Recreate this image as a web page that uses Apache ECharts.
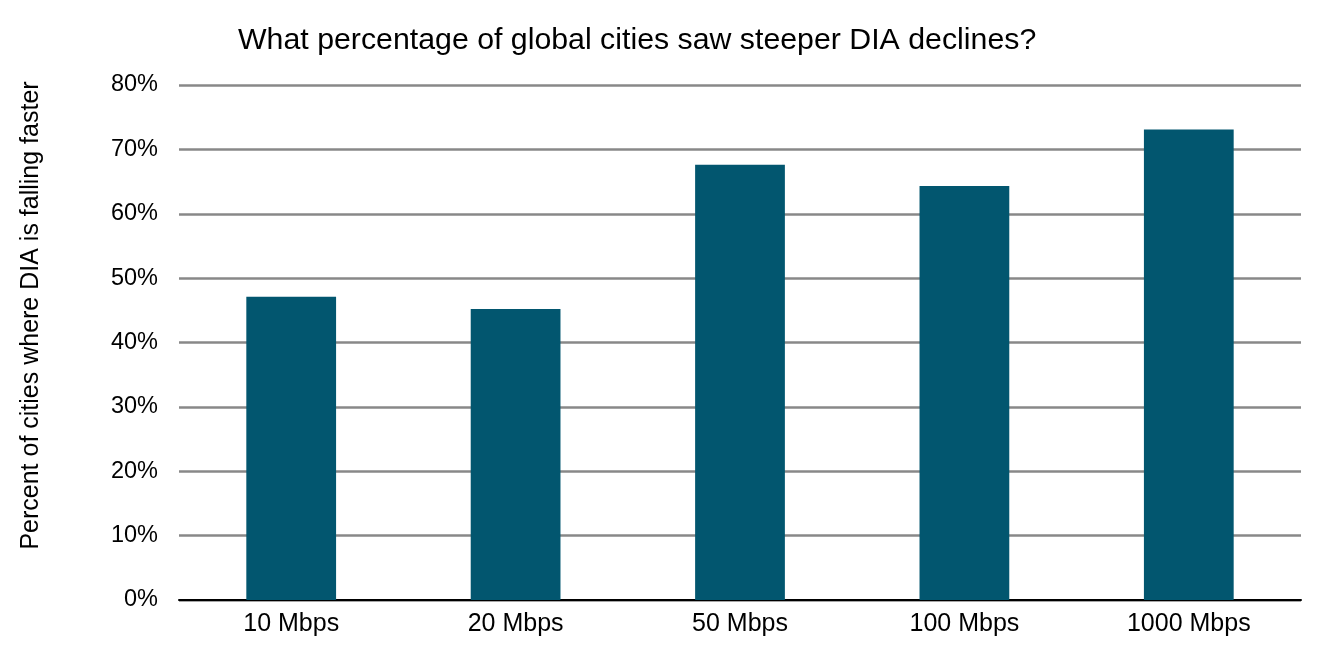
<!DOCTYPE html>
<html>
<head>
<meta charset="utf-8">
<script src="https://cdn.jsdelivr.net/npm/echarts@6/dist/echarts.min.js"></script>
<style>html,body{margin:0;padding:0;background:#fff}#c{width:1343px;height:670px}</style>
</head>
<body>
<div id="c"></div>
<script>
const categories = ['10 Mbps', '20 Mbps', '50 Mbps', '100 Mbps', '1000 Mbps'];
const values = [47.1, 45.2, 67.6, 64.3, 73.1];
const yTicks = [0, 10, 20, 30, 40, 50, 60, 70, 80];
const titleText = 'What percentage of global cities saw steeper DIA declines?';
const yAxisName = 'Percent of cities where DIA is falling faster';

const chart = echarts.init(document.getElementById('c'), null, {renderer: 'canvas'});
const font = '"Liberation Sans", Arial, Helvetica, sans-serif';
chart.setOption({
  animation: false,
  title: {
    text: titleText,
    left: 233, top: 21,
    textStyle: {fontFamily: font, fontSize: 30.3, fontWeight: 'normal', color: '#000'}
  },
  grid: {left: 179, right: 42, top: 85, bottom: 70, containLabel: false},
  xAxis: {
    type: 'category',
    data: categories,
    axisLine: {lineStyle: {color: '#000', width: 2}},
    axisTick: {show: false},
    axisLabel: {fontFamily: font, fontSize: 25, color: '#000', margin: 12}
  },
  yAxis: {
    type: 'value',
    min: yTicks[0], max: yTicks[yTicks.length - 1], interval: 10,
    name: yAxisName,
    nameLocation: 'middle',
    nameGap: 135,
    nameRotate: 90,
    nameTextStyle: {fontFamily: font, fontSize: 25, color: '#000', padding: [0, 0, 0, 54]},
    axisLine: {show: false},
    axisTick: {show: false},
    splitLine: {lineStyle: {color: '#888888', width: 2.5}},
    axisLabel: {fontFamily: font, fontSize: 23.5, color: '#000', margin: 21,
      formatter: v => v + '%'}
  },
  series: [{
    type: 'bar',
    data: values,
    barWidth: '40%',
    itemStyle: {color: '#02566f'},
    z: 3
  }]
});
</script>
</body>
</html>
